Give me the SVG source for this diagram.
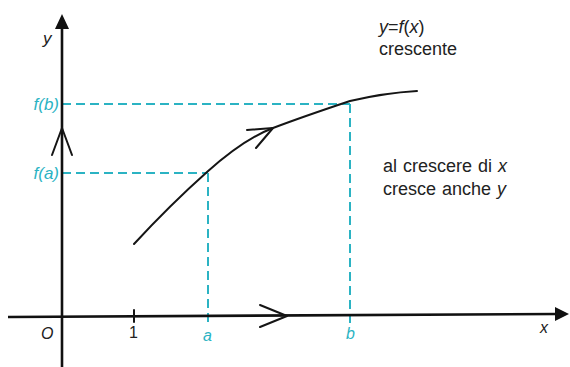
<svg xmlns="http://www.w3.org/2000/svg" width="570" height="367" viewBox="0 0 570 367">
<style>
.ax{stroke:#111;stroke-width:2.6;fill:none}
.ln{stroke:#151515;stroke-width:2;fill:none;stroke-linecap:round;stroke-linejoin:round}
.dash{stroke:#2bb3c3;stroke-width:2;fill:none;stroke-dasharray:9 5}
.t{font-family:"Liberation Sans",Arial,sans-serif;fill:#222}
.c{font-family:"Liberation Sans",Arial,sans-serif;fill:#2bb3c3;font-style:italic}
.i{font-style:italic}
</style>
<rect width="570" height="367" fill="#fff"/>
<g id="connectors">
<path class="dash" d="M62,104 H350 M350,104 V324"/>
<path class="dash" d="M62,173 H208 M208,173 V324"/>
<g id="x-axis">
<path class="ax" d="M8,317 L558,314"/>
<path d="M569,314 L555,307 L555,321 Z" fill="#111"/>
<path class="ln" d="M260,305 L287,316 L260,327"/>
<path class="ln" d="M134,310 V322"/>
</g>
<g id="y-axis">
<path class="ax" d="M62,367 V26"/>
<path d="M62,14 L55,29 L69,29 Z" fill="#111"/>
<path class="ln" d="M52,155 L62,128 L72,155"/>
</g>
<g id="curve">
<path class="ln" d="M134,244 Q170,205 207,172 Q244,139 273,128 Q302,117 350,101 Q384,93 417,91"/>
<path class="ln" d="M247,130 L273,128 L256,148"/>
</g>
</g>
<g id="labels">
<text class="t i" x="43" y="44" font-size="17">y</text>
<text class="c" x="59" y="110" font-size="17" text-anchor="end">f(b)</text>
<text class="c" x="59" y="179" font-size="17" text-anchor="end">f(a)</text>
<text class="t i" x="41" y="339" font-size="16">O</text>
<text class="t" x="129" y="338" font-size="16">1</text>
<text class="c" x="203" y="341" font-size="16">a</text>
<text class="c" x="346" y="339" font-size="16">b</text>
<text class="t i" x="540" y="333" font-size="16">x</text>
</g>
<g id="note-top">
<text class="t" x="379" y="33" font-size="18"><tspan class="i">y</tspan>=<tspan class="i">f</tspan>(<tspan class="i">x</tspan>)</text>
<text class="t" x="379" y="55" font-size="18">crescente</text>
</g>
<g id="note-bottom">
<text class="t" x="383" y="172" font-size="18" word-spacing="1">al crescere di <tspan class="i">x</tspan></text>
<text class="t" x="383" y="195" font-size="18" word-spacing="1">cresce anche <tspan class="i">y</tspan></text>
</g>
</svg>
